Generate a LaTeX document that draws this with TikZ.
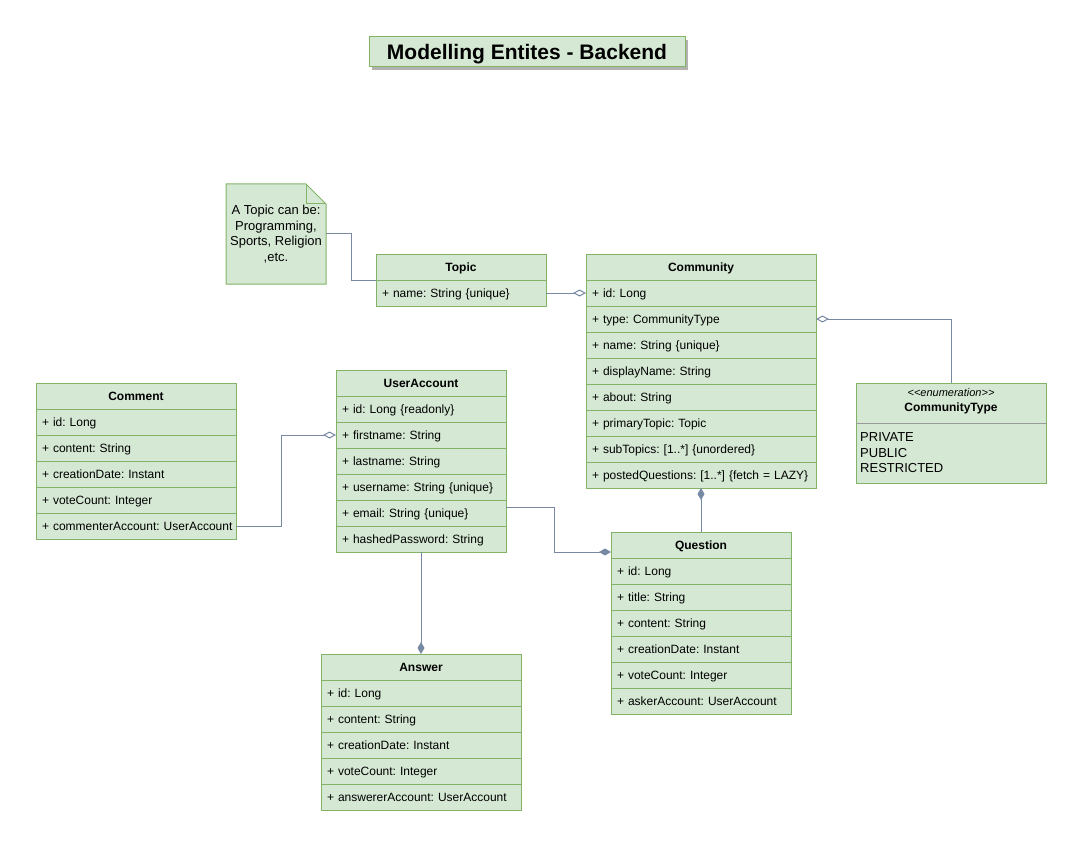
\documentclass[tikz,border=0pt]{standalone}
\usepackage{fontspec}
\setmainfont{Liberation Sans}
\usetikzlibrary{positioning,arrows.meta,shadows}
\definecolor{boxfill}{HTML}{D5E8D4}
\definecolor{boxline}{HTML}{82B366}
\definecolor{linkcol}{HTML}{788AA3}
\frenchspacing

\begin{document}
\begin{tikzpicture}[x=1pt,y=-1pt]
    \tikzset{cls/.style={draw=boxline, fill=boxfill, line width=1pt, inner sep=0pt, outer sep=0pt,
            font=\fontsize{12}{14}\selectfont},
        hdr/.style={cls, minimum width=#1, minimum height=26pt, text height=11pt, text depth=2.4pt,
            font=\fontsize{12}{14}\selectfont\bfseries},
        attr/.style={cls, text width=#1, inner xsep=6pt, minimum height=26pt, text height=11pt,
            text depth=2.4pt, align=left},
        link/.style={draw=linkcol, line width=1pt},
        agg/.style={-{Diamond[open, fill=white, length=13pt, width=7pt]}},
        comp/.style={-{Diamond[length=12pt, width=7pt]}}}
    \useasboundingbox (0,0) rectangle (1083,850);

    %Titel
    \node[cls, minimum width=316pt, minimum height=30pt, text height=15pt, text depth=0pt,
        font=\fontsize{21}{24}\selectfont\bfseries,
        drop shadow={shadow xshift=3pt, shadow yshift=-3pt, fill=black!30, opacity=1}]
        (title) at (527,52) {Modelling Entites - Backend};

    %Notiz
    \node[minimum width=100pt, minimum height=100pt, inner sep=0pt, outer sep=0pt] (note) at (276,234) {};
    \filldraw[fill=boxfill, draw=boxline, line width=1pt] (note.north west) -- ([xshift=-20pt]note.north east)
        -- ([yshift=-20pt]note.north east) -- (note.south east) -- (note.south west) -- cycle;
    \draw[boxline, line width=1pt] ([xshift=-20pt]note.north east) -- ([xshift=-20pt,yshift=-20pt]note.north east)
        -- ([yshift=-20pt]note.north east);
    \node[align=center, font=\fontsize{13}{15.7}\selectfont] (notetext) at (note)
        {A Topic can be:\\Programming,\\Sports, Religion\\,etc.};

    %Topic
    \node[hdr=170pt, alias=topic0] (topic) at (461,267) {Topic};
    \node[attr=158pt, below=0pt of topic] (topic1) {\mbox{+ name: String \{unique\}}};

    %Community
    \node[hdr=230pt, alias=comm0] (comm) at (701,267) {Community};
    \foreach \t [count=\i, remember=\i as \j (initially 0)] in {{+ id: Long}, {+ type: CommunityType},
            {+ name: String \{unique\}}, {+ displayName: String}, {+ about: String}, {+ primaryTopic: Topic},
            {+ subTopics: [1..*] \{unordered\}}, {+ postedQuestions: [1..*] \{fetch = LAZY\}}}
        \node[attr=218pt, below=0pt of comm\j] (comm\i) {\mbox{\t}};

    %CommunityType
    \node[cls, minimum width=190pt, minimum height=100pt] (ctype) at (951,433) {};
    \node[font=\fontsize{11}{13}\selectfont\itshape] (ctypest) at (951,393) {{<}{<}enumeration{>}{>}};
    \node[font=\fontsize{12}{14}\selectfont\bfseries] (ctypename) at (951,408) {CommunityType};
    \draw[black!40, line width=1pt] (ctype.west |- 0,423) -- (ctype.east |- 0,423);
    \node[anchor=north west, inner sep=0pt, align=left, font=\fontsize{13}{15.5}\selectfont]
        (ctypeitems) at (860,432.5) {PRIVATE\\PUBLIC\\RESTRICTED};

    %Comment
    \node[hdr=200pt, alias=cmt0] (cmt) at (136,396) {Comment};
    \foreach \t [count=\i, remember=\i as \j (initially 0)] in {{+ id: Long}, {+ content: String},
            {+ creationDate: Instant}, {+ voteCount: Integer}, {+ commenterAccount: UserAccount}}
        \node[attr=188pt, below=0pt of cmt\j] (cmt\i) {\mbox{\t}};

    %UserAccount
    \node[hdr=170pt, alias=user0] (user) at (421,383) {UserAccount};
    \foreach \t [count=\i, remember=\i as \j (initially 0)] in {{+ id: Long \{readonly\}}, {+ firstname: String},
            {+ lastname: String}, {+ username: String \{unique\}}, {+ email: String \{unique\}},
            {+ hashedPassword: String}}
        \node[attr=158pt, below=0pt of user\j] (user\i) {\mbox{\t}};

    %Question
    \node[hdr=180pt, alias=quest0] (quest) at (701,545) {Question};
    \foreach \t [count=\i, remember=\i as \j (initially 0)] in {{+ id: Long}, {+ title: String},
            {+ content: String}, {+ creationDate: Instant}, {+ voteCount: Integer}, {+ askerAccount: UserAccount}}
        \node[attr=168pt, below=0pt of quest\j] (quest\i) {\mbox{\t}};

    %Answer
    \node[hdr=200pt, alias=ans0] (ans) at (421,667) {Answer};
    \foreach \t [count=\i, remember=\i as \j (initially 0)] in {{+ id: Long}, {+ content: String},
            {+ creationDate: Instant}, {+ voteCount: Integer}, {+ answererAccount: UserAccount}}
        \node[attr=188pt, below=0pt of ans\j] (ans\i) {\mbox{\t}};

    %Verbindungen
    \draw[link] (note.east) -- ++(25,0) |- (topic.south west);
    \draw[link, agg] (topic1.east) -- (comm1.west);
    \draw[link, agg] (ctype.north) |- (comm2.east);
    \draw[link, comp] (quest.north) -- (comm8.south);
    \draw[link, comp] ([yshift=6pt]user5.east) -- ++(48,0) |- (quest.west |- user6.south);
    \draw[link, comp] (user6.south) -- (ans.north);
    \draw[link, agg] (cmt5.east) -- ++(45,0) |- (user2.west);

\end{tikzpicture}
\end{document}
